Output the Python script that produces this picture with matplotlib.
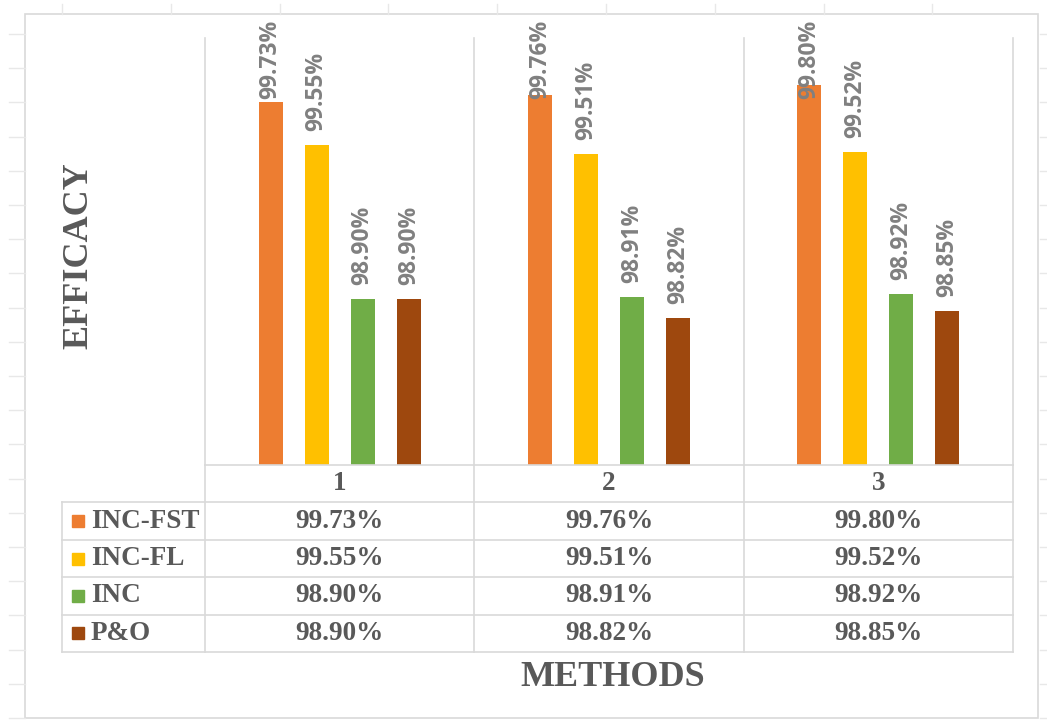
import matplotlib
matplotlib.use('Agg')  # Use non-interactive backend
import matplotlib.pyplot as plt
from matplotlib.patches import Rectangle
from matplotlib.lines import Line2D
import numpy as np

# Efficacy (%) of each MPPT method over the three test cases
methods = ['1', '2', '3']
series_names = ['INC-FST', 'INC-FL', 'INC', 'P&O']
inc_fst = [99.73, 99.76, 99.80]
inc_fl = [99.55, 99.51, 99.52]
inc = [98.90, 98.91, 98.92]
p_and_o = [98.90, 98.82, 98.85]
series_values = [inc_fst, inc_fl, inc, p_and_o]
colors = ['#ED7D31', '#FFC000', '#70AD47', '#9E480E']

W, H = 1047, 724
GRID = '#d9d9d9'
CELL = '#e8e8e8'
TEXT = '#595959'
LABEL = '#808080'
SERIF = 'Liberation Serif'

fig = plt.figure(figsize=(W / 100, H / 100), dpi=100)
fig.patch.set_facecolor('white')


def fx(px):
    return px / W


def fy(py):
    return 1 - py / H


# spreadsheet cell lines showing around the chart object
for k in range(21):
    y = 34 + 34.2 * k
    fig.add_artist(Line2D([fx(9), fx(25)], [fy(y), fy(y)], color=CELL, lw=1))
    fig.add_artist(Line2D([fx(1040), fx(1047)], [fy(y), fy(y)], color=CELL, lw=1))
for k in range(9):
    x = 62 + 108.8 * k
    fig.add_artist(Line2D([fx(x), fx(x)], [fy(4), fy(14)], color=CELL, lw=1))

# chart area border
fig.add_artist(Rectangle((fx(25), fy(718)), fx(1038) - fx(25), fy(14) - fy(718),
                         fill=False, edgecolor=GRID, lw=1.2, transform=fig.transFigure))

# plot area
ax = fig.add_axes([fx(205), fy(465), fx(1013) - fx(205), fy(38) - fy(465)])
ax.set_xlim(-0.5, len(methods) - 0.5)
ax.set_ylim(98.2, 100.0)
ax.axis('off')

x = np.arange(len(methods))
pitch = 0.171
width = 0.089
labels = []
for i, (vals, col) in enumerate(zip(series_values, colors)):
    xs = x + (i - 1.5) * pitch
    ax.bar(xs, vals, width=width, color=col, zorder=2)
    for xv, v in zip(xs, vals):
        t = ax.annotate(f'{v:.2f}%', xy=(xv, v), xytext=(0, 10),
                        textcoords='offset points', rotation=90,
                        ha='center', va='bottom', fontsize=16.5,
                        fontfamily='Open Sans', fontweight='bold',
                        color=LABEL, annotation_clip=False, zorder=3)
        labels.append(t)

for xb in np.arange(len(methods) + 1) - 0.5:
    ax.axvline(xb, color=GRID, lw=1.2, clip_on=False, zorder=1)

# keep data labels inside the chart area
fig.canvas.draw()
renderer = fig.canvas.get_renderer()
top_limit = H - 20
for t in labels:
    bb = t.get_window_extent(renderer)
    if bb.y1 > top_limit:
        dy = (bb.y1 - top_limit) * 72 / fig.dpi
        t.xyann = (0, 10 - dy)

# data table below the plot area
col_w = (1013 - 205) / len(methods)
x_left = -0.5 - (205 - 62) / col_w
tab = fig.add_axes([fx(62), fy(652), fx(1013) - fx(62), fy(465) - fy(652)])
tab.set_xlim(x_left, len(methods) - 0.5)
tab.set_ylim(len(series_names) + 1, 0)
tab.axis('off')

tab.plot([-0.5, len(methods) - 0.5], [0, 0], color=GRID, lw=1.2, clip_on=False)
for r in range(1, len(series_names) + 2):
    tab.plot([x_left, len(methods) - 0.5], [r, r], color=GRID, lw=1.2, clip_on=False)
tab.plot([x_left, x_left], [1, len(series_names) + 1], color=GRID, lw=1.2, clip_on=False)
for xb in np.arange(len(methods) + 1) - 0.5:
    tab.plot([xb, xb], [0, len(series_names) + 1], color=GRID, lw=1.2, clip_on=False)

cell_font = dict(fontfamily=SERIF, fontweight='bold', fontsize=19.5, color=TEXT)
for j, m in enumerate(methods):
    tab.text(j, 0.5, m, ha='center', va='center', **cell_font)

for r, (name, vals, col) in enumerate(zip(series_names, series_values, colors)):
    yr = r + 1.5
    tab.plot(x_left + 16 / col_w, yr, marker='s', markersize=8, color=col,
             linestyle='none', clip_on=False)
    tab.text(x_left + 29 / col_w, yr, name, ha='left', va='center', **cell_font)
    for j, v in enumerate(vals):
        tab.text(j, yr, f'{v:.2f}%', ha='center', va='center', **cell_font)

# axis titles
fig.text(fx(613), fy(677), 'METHODS', ha='center', va='center',
         fontfamily=SERIF, fontweight='bold', fontsize=26, color=TEXT)
fig.text(fx(79), fy(256), 'EFFICACY', ha='center', va='center', rotation=90,
         fontfamily=SERIF, fontweight='bold', fontsize=26, color=TEXT)

fig.savefig('out.png', dpi=100)
plt.close(fig)
